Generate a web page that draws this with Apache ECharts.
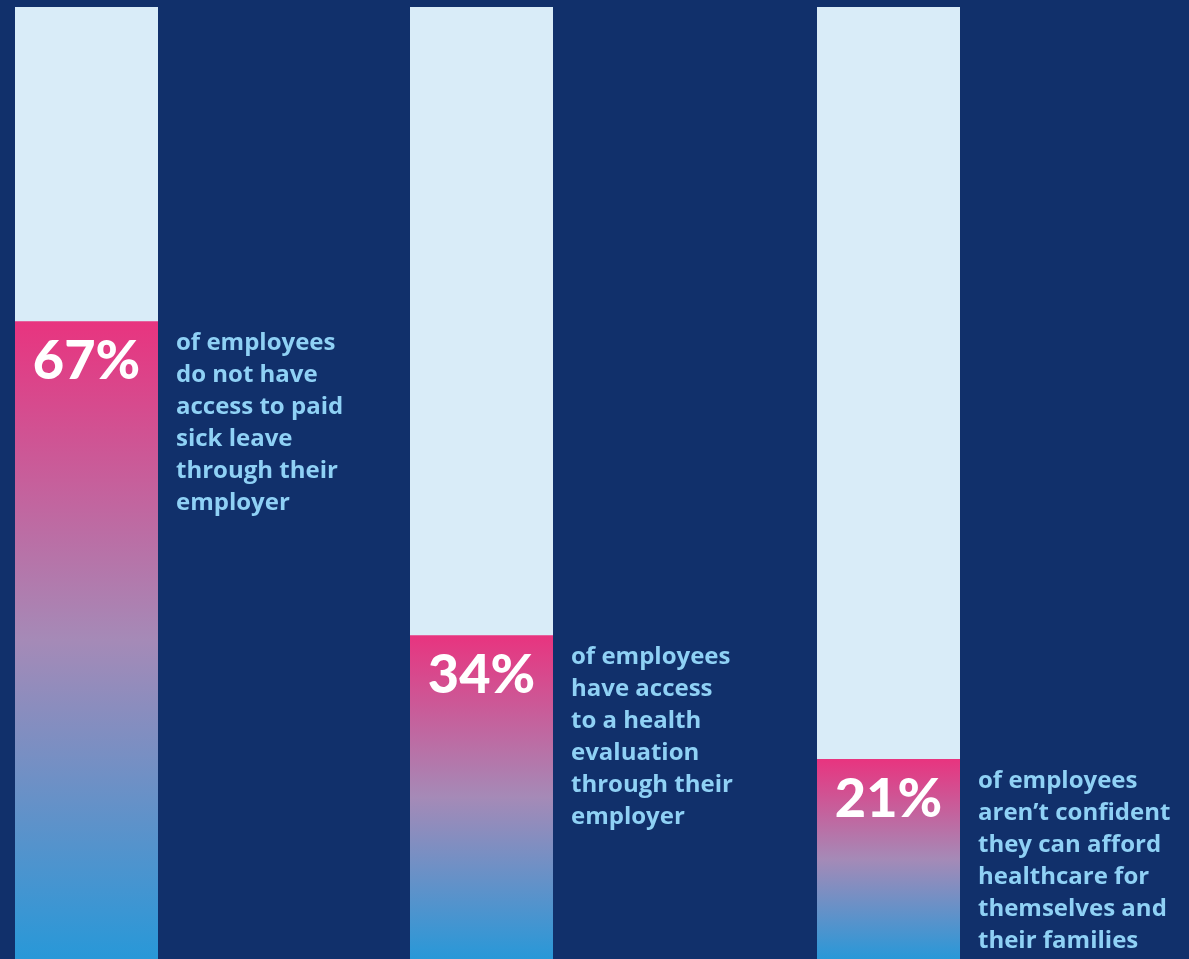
<!DOCTYPE html>
<html>
<head>
<meta charset="utf-8">
<title>Employee health benefits</title>
<script src="https://cdn.jsdelivr.net/npm/echarts@6/dist/echarts.min.js"></script>
<style>
  html, body { margin: 0; padding: 0; background: #11306b; }
  #chart { width: 1189px; height: 959px; }
</style>
</head>
<body>
<div id="chart"></div>
<script>
// Survey results, one column per statistic
const categories = ['Paid sick leave', 'Health evaluation', 'Affordable healthcare'];
const values = [67, 34, 21];
const descriptions = [
  'of employees\ndo not have\naccess to paid\nsick leave\nthrough their\nemployer',
  'of employees\nhave access\nto a health\nevaluation\nthrough their\nemployer',
  'of employees\naren\u2019t confident\nthey can afford\nhealthcare for\nthemselves and\ntheir families'
];

// Column placement (left edge of each column, in px)
const columnLeft = [15, 410, 817];
const columnWidth = 143;

const barGradient = new echarts.graphic.LinearGradient(0, 0, 0, 1, [
  { offset: 0, color: '#e8347f' },
  { offset: 0.5, color: '#a58ab7' },
  { offset: 1, color: '#2898d8' }
]);

const grids = [], xAxes = [], yAxes = [], series = [];
categories.forEach((cat, i) => {
  grids.push({ left: columnLeft[i], width: columnWidth, top: 7, height: 955 });
  xAxes.push({
    type: 'category', gridIndex: i, data: [cat],
    show: false, boundaryGap: true
  });
  yAxes.push({ type: 'value', gridIndex: i, min: 0, max: 100, show: false });

  // value bar with the light full-height track behind it
  series.push({
    type: 'bar', xAxisIndex: i, yAxisIndex: i,
    data: [values[i]],
    barWidth: '100%',
    showBackground: true,
    backgroundStyle: { color: '#d9ecf8' },
    itemStyle: { color: barGradient },
    label: {
      show: true, position: 'insideTop', distance: 13,
      formatter: '{c}%',
      color: '#ffffff', fontFamily: 'Lato', fontWeight: 900, fontSize: 54
    },
    silent: true, animation: false
  });

  // description beside the bar, aligned to its top
  series.push({
    type: 'bar', xAxisIndex: i, yAxisIndex: i,
    data: [values[i]],
    barWidth: '100%', barGap: '-100%',
    itemStyle: { color: 'rgba(0,0,0,0)' },
    label: {
      show: true, position: [161, 6], align: 'left', verticalAlign: 'top',
      formatter: () => descriptions[i],
      color: '#8fd1f5', fontFamily: 'Open Sans', fontWeight: 'bold',
      fontSize: 24, lineHeight: 32
    },
    silent: true, animation: false
  });
});

const chart = echarts.init(document.getElementById('chart'), null, { renderer: 'canvas' });
chart.setOption({
  backgroundColor: '#11306b',
  animation: false,
  grid: grids,
  xAxis: xAxes,
  yAxis: yAxes,
  series: series
});
</script>
</body>
</html>
